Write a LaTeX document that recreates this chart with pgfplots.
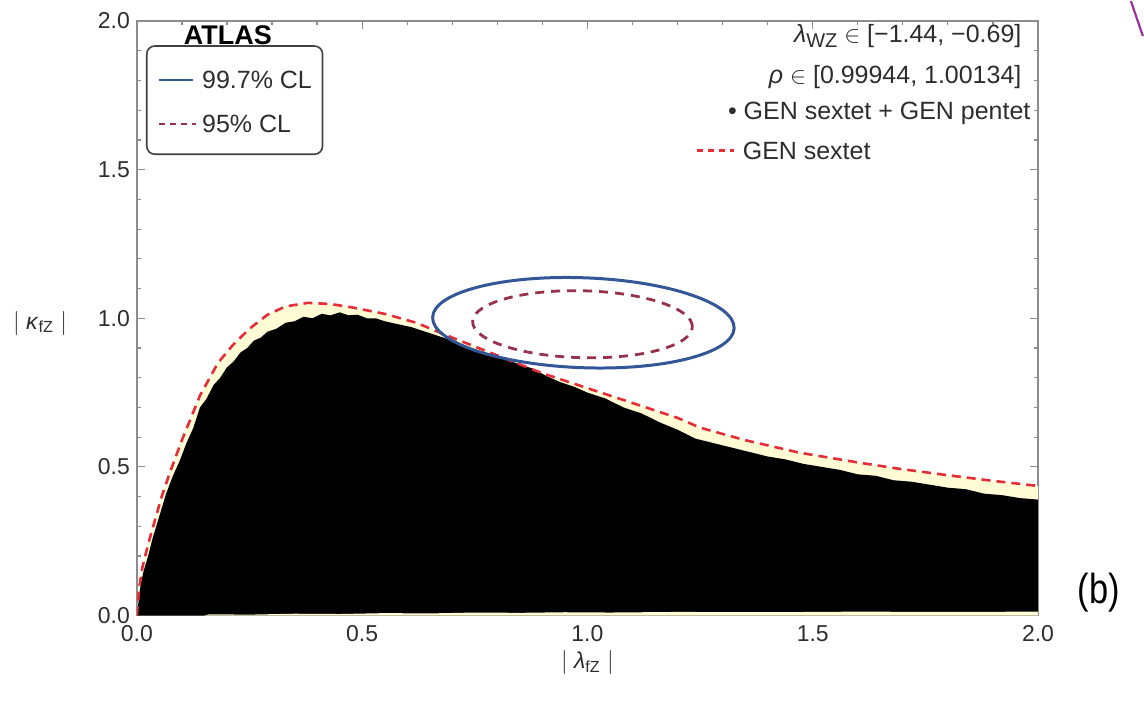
\documentclass[border=0pt]{standalone}
\usepackage{pgfplots}
\pgfplotsset{compat=1.18}
\usepackage{fontspec}
\usepackage{graphicx}
\setmainfont{Liberation Sans}
\usetikzlibrary{calc}
\definecolor{clblue}{RGB}{50,86,150}
\definecolor{clred}{RGB}{150,50,75}
\definecolor{gsred}{RGB}{228,45,55}
\definecolor{cream}{RGB}{255,251,212}
\definecolor{framegray}{RGB}{140,140,140}
\definecolor{labgray}{RGB}{45,45,45}

\begin{document}
\begin{tikzpicture}
\begin{axis}[
  name=ax,
  scale only axis,
  width=451pt, height=297.5pt,
  xmin=0, xmax=2, ymin=0, ymax=2,
  xtick={0,0.5,1,1.5,2},
  ytick={0,0.5,1,1.5,2},
  minor tick num=4,
  tick align=inside,
  major tick length=4pt,
  minor tick length=2pt,
  axis line style={framegray, line width=0.7pt},
  tick style={framegray, line width=0.6pt},
  tick label style={font=\fontsize{11.5}{13}\selectfont, text=labgray},
  xticklabel style={yshift=-1.5pt},
  /pgf/number format/.cd, fixed, fixed zerofill, precision=1, assume math mode=true,
  /pgfplots/.cd,
  xlabel={$|$ \textit{λ}\textsubscript{fZ} $|$},
  ylabel={$|$ \textit{κ}\textsubscript{fZ} $|$},
  label style={font=\fontsize{11.5}{13}\selectfont, text=labgray},
  xlabel style={at={(axis description cs:0.5,-0.079)}, anchor=center},
  ylabel style={at={(axis description cs:-0.1075,0.492)}, anchor=center, rotate=-90},
]
% cream band under the GEN sextet boundary
\addplot[fill=cream, draw=none] coordinates {
(0,0)(0.005,0.09)(0.012,0.16)(0.025,0.24)(0.04,0.32)(0.055,0.40)(0.073,0.48)
(0.10,0.59)(0.14,0.74)(0.18,0.85)(0.213,0.91)(0.25,0.965)(0.29,1.012)(0.33,1.04)
(0.38,1.052)(0.43,1.048)(0.48,1.036)(0.55,1.015)(0.62,0.985)(0.70,0.935)(0.80,0.875)
(0.90,0.815)(1.00,0.765)(1.10,0.715)(1.20,0.665)(1.25,0.632)(1.35,0.59)(1.47,0.548)
(1.60,0.515)(1.69,0.494)(1.80,0.472)(1.90,0.453)(2.00,0.436)} \closedcycle;
% GEN sextet + GEN pentet scan region
\addplot[fill=black, draw=none] coordinates {
(0,0)(0.004,0.05)(0.008,0.10)(0.015,0.15)(0.025,0.20)(0.035,0.26)(0.045,0.31)
(0.055,0.36)(0.065,0.41)(0.08,0.47)(0.095,0.52)(0.11,0.58)(0.125,0.63)(0.14,0.70)
(0.155,0.73)(0.17,0.775)(0.185,0.80)(0.20,0.835)(0.215,0.855)(0.23,0.885)(0.245,0.90)
(0.26,0.925)(0.275,0.935)(0.29,0.955)(0.31,0.965)(0.33,0.985)(0.35,0.99)(0.37,1.005)
(0.39,1.0)(0.41,1.015)(0.43,1.01)(0.45,1.02)(0.47,1.01)(0.49,1.012)(0.51,1.0)
(0.53,1.0)(0.55,0.99)(0.58,0.98)(0.61,0.97)(0.64,0.955)(0.67,0.94)(0.70,0.925)
(0.73,0.905)(0.76,0.89)(0.79,0.875)(0.82,0.86)(0.85,0.845)(0.88,0.83)(0.91,0.805)
(0.94,0.785)(0.97,0.77)(1.00,0.75)(1.04,0.73)(1.08,0.70)(1.12,0.68)(1.16,0.65)
(1.20,0.625)(1.24,0.595)(1.28,0.58)(1.32,0.565)(1.36,0.55)(1.40,0.535)(1.44,0.525)
(1.48,0.51)(1.52,0.50)(1.56,0.49)(1.60,0.475)(1.64,0.47)(1.68,0.455)(1.72,0.45)
(1.76,0.44)(1.80,0.43)(1.84,0.425)(1.88,0.41)(1.92,0.405)(1.96,0.395)(2.00,0.39)} \closedcycle;
% thin gaps along the bottom
\addplot[fill=cream, draw=none] coordinates {
(0.15,0)(0.16,0.004)(0.25,0.003)(0.35,0.006)(0.45,0.005)(0.55,0.008)(0.65,0.007)
(0.75,0.010)(0.85,0.009)(0.95,0.011)(1.05,0.010)(1.2,0.012)(1.4,0.011)(1.6,0.013)
(1.8,0.012)(2.0,0.013)(2.0,0)} \closedcycle;
% GEN sextet boundary
\addplot[gsred, line width=1.3pt, dash pattern=on 4.5pt off 3pt] coordinates {
(0,0)(0.005,0.09)(0.012,0.16)(0.025,0.24)(0.04,0.32)(0.055,0.40)(0.073,0.48)
(0.10,0.59)(0.14,0.74)(0.18,0.85)(0.213,0.91)(0.25,0.965)(0.29,1.012)(0.33,1.04)
(0.38,1.052)(0.43,1.048)(0.48,1.036)(0.55,1.015)(0.62,0.985)(0.70,0.935)(0.80,0.875)
(0.90,0.815)(1.00,0.765)(1.10,0.715)(1.20,0.665)(1.25,0.632)(1.35,0.59)(1.47,0.548)
(1.60,0.515)(1.69,0.494)(1.80,0.472)(1.90,0.453)(2.00,0.436)};
% ATLAS contours
\draw[clblue, line width=1.5pt] (axis cs:0.991,0.985) ellipse [x radius=75.5pt, y radius=22.5pt, rotate=-2.1];
\draw[clred, line width=1.4pt, dash pattern=on 4.5pt off 3.5pt] (axis cs:0.989,0.980) ellipse [x radius=55pt, y radius=16.75pt, rotate=-1.4];
% legend box
\draw[black!75, line width=0.8pt, rounded corners=4pt] (rel axis cs:0.011,0.776) rectangle (rel axis cs:0.206,0.958);
\node[font=\fontsize{13.5}{15}\selectfont\bfseries] at (rel axis cs:0.101,0.977) {ATLAS};
\draw[clblue, line width=1.2pt] (rel axis cs:0.0244,0.901) -- (rel axis cs:0.062,0.901);
\node[anchor=west, font=\fontsize{12.5}{14}\selectfont, text=labgray, inner sep=0pt] at (rel axis cs:0.072,0.901) {99.7\% CL};
\draw[clred, line width=1.2pt, dash pattern=on 3pt off 2.5pt] (rel axis cs:0.025,0.827) -- (rel axis cs:0.066,0.827);
\node[anchor=west, font=\fontsize{12.5}{14}\selectfont, text=labgray, inner sep=0pt] at (rel axis cs:0.072,0.827) {95\% CL};
% parameter ranges and scan legend
\node[anchor=east, font=\fontsize{12.5}{14}\selectfont, text=labgray, inner sep=0pt] at (rel axis cs:0.982,0.975) {\textit{λ}\raisebox{-0.35ex}{\fontsize{10}{11}\selectfont WZ} $\in$ [−1.44, −0.69]};
\node[anchor=east, font=\fontsize{12.5}{14}\selectfont, text=labgray, inner sep=0pt] at (rel axis cs:0.982,0.906) {\textit{ρ} $\in$ [0.99944, 1.00134]};
\node[anchor=east, font=\fontsize{12.5}{14}\selectfont, text=labgray, inner sep=0pt] at (rel axis cs:0.992,0.844) {• GEN sextet + GEN pentet};
\draw[gsred, line width=1.2pt, dash pattern=on 3pt off 2.5pt] (rel axis cs:0.622,0.782) -- (rel axis cs:0.663,0.782);
\node[anchor=west, font=\fontsize{12.5}{14}\selectfont, text=labgray, inner sep=0pt] at (rel axis cs:0.672,0.782) {GEN sextet};
\end{axis}
\node[font=\fontsize{21}{24}\selectfont] at ($(ax.south west)+(481.5pt,11.5pt)$) {\scalebox{0.82}[1]{(b)}};
\draw[violet!80, line width=1.1pt] ($(ax.south west)+(497.5pt,307.5pt)$) -- ($(ax.south west)+(503.5pt,290pt)$);
\path[use as bounding box] ($(ax.south west)+(-68.5pt,-45pt)$) rectangle ($(ax.south west)+(503.5pt,307.5pt)$);
\end{tikzpicture}
\end{document}
